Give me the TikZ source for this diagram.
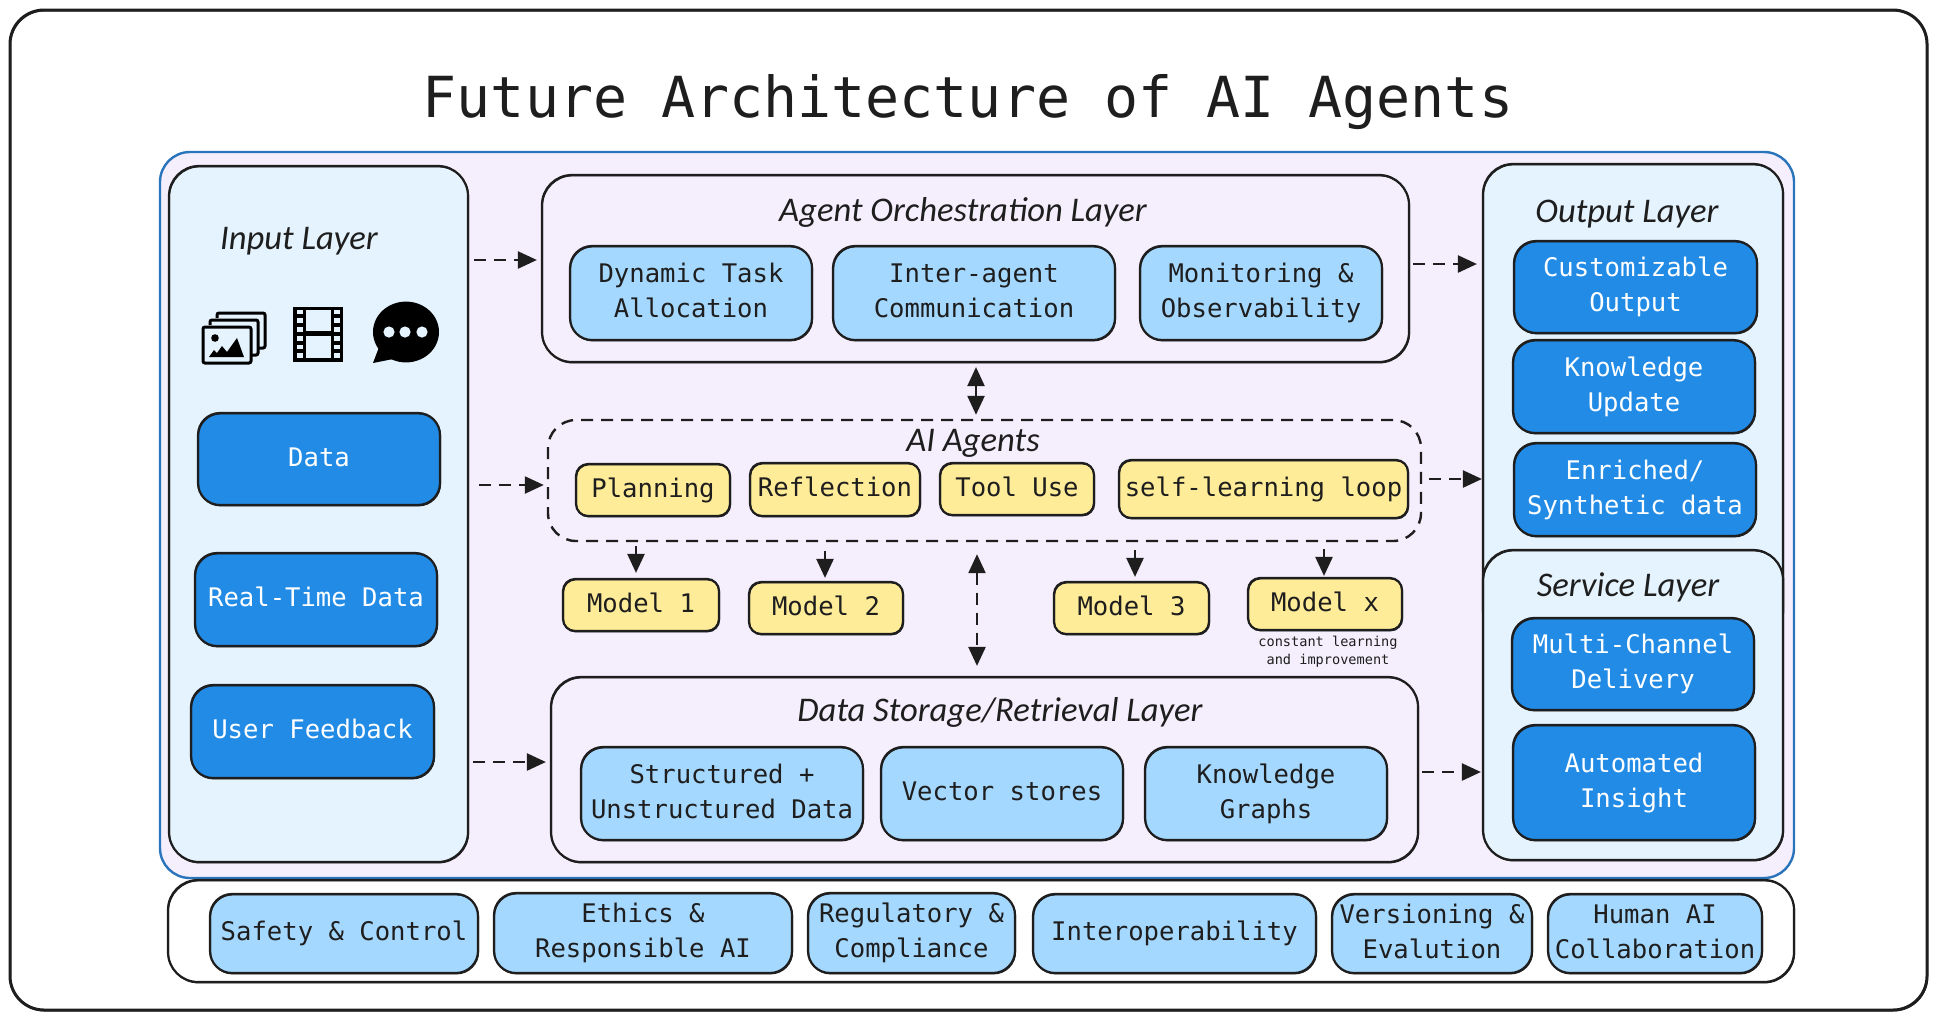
\documentclass[tikz,border=0pt]{standalone}
\usepackage{fontspec}
\setmonofont{DejaVu Sans Mono}
\newfontfamily\handfont{Carlito}
\usetikzlibrary{arrows.meta}
\definecolor{ink}{HTML}{1E1E1E}
\definecolor{violetbg}{HTML}{F5EFFD}
\definecolor{framebl}{HTML}{2A74BC}
\definecolor{layerbl}{HTML}{E4F3FE}
\definecolor{strongbl}{HTML}{228BE6}
\definecolor{softbl}{HTML}{A5D8FF}
\definecolor{softyl}{HTML}{FFEC99}
\tikzset{
  x=0.5pt,y=-0.5pt,
  lift/.store in=\liftamt, lift=0pt,
  sk/.style={draw=ink,line width=1.1pt,inner sep=0pt,align=center,text=ink,
    font=\ttfamily\fontsize{12.8}{17.5}\selectfont,
    postaction={draw=ink,line width=.5pt,transform canvas={shift={(.3pt,-.45pt)}}}},
  layerbox/.style={sk,fill=layerbl,rounded corners=15pt},
  orchbox/.style={sk,fill=none,rounded corners=15pt},
  whitebox/.style={sk,fill=white,rounded corners=15pt},
  strongbox/.style={sk,fill=strongbl,text=white,rounded corners=11pt},
  softbox/.style={sk,fill=softbl,rounded corners=11pt},
  yellowbox/.style={sk,fill=softyl,rounded corners=6pt},
  dashbox/.style={draw=ink,line width=1.2pt,dash pattern=on 6pt off 4pt,rounded corners=14pt,inner sep=0pt},
  handlabel/.style={font=\handfont\itshape\fontsize{17.3}{19}\selectfont,text=ink,inner sep=0pt},
  conn/.style={draw=ink,line width=1.2pt,dash pattern=on 6pt off 4pt,-{Triangle[length=9.5pt,width=8.5pt]}},
  conn2/.style={draw=ink,line width=1.2pt,dash pattern=on 6pt off 4pt,{Triangle[length=9.5pt,width=8.5pt]}-{Triangle[length=9.5pt,width=8.5pt]}},
}
\newcommand{\bx}[7]{%
  \pgfmathsetmacro\cxv{(#3+#5)/2}\pgfmathsetmacro\cyv{(#4+#6)/2}%
  \pgfmathsetmacro\wv{(#5-#3)*0.5}\pgfmathsetmacro\hv{(#6-#4)*0.5}%
  \node[#2,minimum width=\wv pt,minimum height=\hv pt] (#1) at (\cxv,\cyv)
    {\raisebox{\liftamt}{\begin{tabular}{@{}c@{}}#7\end{tabular}}};}
\begin{document}
\begin{tikzpicture}
\useasboundingbox[fill=white] (0,0) rectangle (1937,1019);
% outer frame
\bx{outer}{sk,rounded corners=17pt,line width=1.5pt}{10}{10}{1927}{1010}{}
\node[font=\ttfamily\fontsize{28.3}{32}\selectfont,text=ink,inner sep=0pt] (title) at (968,102) {Future Architecture of AI Agents};
% container
\bx{main}{draw=framebl,line width=1.2pt,fill=violetbg,rounded corners=15pt}{160}{152}{1794}{878}{}
% input layer
\bx{inp}{layerbox}{169}{166}{468}{862}{}
\node[handlabel] (inplabel) at (299,241) {Input Layer};
\bx{data}{strongbox}{198}{413}{440}{505}{Data}
\bx{rtdata}{strongbox}{195}{553}{437}{646}{Real-Time Data}
\bx{feedback}{strongbox}{191}{685}{434}{778}{User Feedback}
% icons
\begin{scope}[line width=1.5pt,draw=black]
  \draw[rounded corners=1pt] (217,318) -- (217,313) -- (265,313) -- (265,348) -- (258,348);
  \draw[rounded corners=1pt] (210,325) -- (210,320) -- (258,320) -- (258,355) -- (251,355);
  \draw[rounded corners=1pt] (203,327) rectangle (251,363);
  \fill[black] (215,338) circle[radius=1.9pt];
  \fill[black] (209,357) -- (214,350) -- (217,353) -- (222,346) -- (227,352) -- (237,338) -- (244,357) -- cycle;
  \fill[black] (293,307) rectangle (343,362);
  \fill[layerbl] (306,310) rectangle (331,331);
  \fill[layerbl] (306,336) rectangle (331,358);
  \foreach \hy/\hz in {310/314,318/323,327/332,336/341,345/349,353/358}{
    \fill[layerbl] (297,\hy) rectangle (303,\hz);
    \fill[layerbl] (334,\hy) rectangle (340,\hz);
  }
  \fill[black] (406,332) ellipse[x radius=16.5pt,y radius=15.2pt];
  \fill[black] (373,363) -- (381,342) -- (398,358) -- cycle;
  \foreach \dx in {389,405,422}{\fill[layerbl] (\dx,332) circle[radius=2.8pt];}
\end{scope}
% orchestration layer
\bx{orch}{orchbox}{542}{175}{1409}{362}{}
\node[handlabel] (orchlabel) at (963,212) {Agent Orchestration Layer};
\bx{dyn}{softbox}{570}{246}{812}{340}{Dynamic Task\\Allocation}
\bx{inter}{softbox}{833}{246}{1115}{340}{Inter-agent\\Communication}
\bx{monit}{softbox}{1140}{246}{1382}{340}{Monitoring \&\\Observability}
% AI agents
\bx{agents}{dashbox}{548}{420}{1421}{541}{}
\node[handlabel] (agentslabel) at (973,443) {AI Agents};
\bx{plan}{yellowbox}{576}{464}{730}{516}{Planning}
\bx{refl}{yellowbox}{750}{463}{920}{516}{Reflection}
\bx{tool}{yellowbox}{940}{463}{1094}{515}{Tool Use}
\bx{loop}{yellowbox}{1119}{460}{1408}{518}{self-learning loop}
\bx{mone}{yellowbox}{563}{579}{719}{631}{Model 1}
\bx{mtwo}{yellowbox}{749}{582}{903}{634}{Model 2}
\bx{mthree}{yellowbox}{1054}{582}{1209}{634}{Model 3}
\bx{mx}{yellowbox}{1248}{578}{1402}{630}{Model x}
\node[font=\ttfamily\fontsize{6.8}{9}\selectfont,text=ink,align=center,inner sep=0pt] (mxnote) at (1328,652) {constant learning\\and improvement};
% storage layer
\bx{store}{orchbox}{551}{677}{1418}{862}{}
\node[handlabel] (storelabel) at (1000,712) {Data Storage/Retrieval Layer};
\bx{struct}{softbox}{581}{747}{863}{840}{Structured +\\Unstructured Data}
\bx{vector}{softbox}{881}{747}{1123}{840}{Vector stores}
\bx{graphs}{softbox}{1145}{747}{1387}{840}{Knowledge\\Graphs}
% output layer
\bx{output}{layerbox}{1483}{164}{1783}{640}{}
\node[handlabel] (outlabel) at (1627,214) {Output Layer};
\bx{custom}{strongbox}{1514}{241}{1757}{333}{Customizable\\Output}
\bx{kupd}{strongbox}{1513}{340}{1755}{433}{Knowledge\\Update}
\bx{enrich}{strongbox}{1514}{443}{1756}{536}{Enriched/\\Synthetic data}
% service layer
\bx{service}{layerbox}{1483}{550}{1783}{860}{}
\node[handlabel] (servlabel) at (1628,587) {Service Layer};
\bx{multi}{strongbox}{1512}{618}{1754}{710}{Multi-Channel\\Delivery}
\bx{auto}{strongbox}{1513}{725}{1755}{840}{Automated\\Insight}
% bottom bar
\bx{bar}{whitebox}{168}{880}{1794}{982}{}
\bx{safety}{softbox}{210}{894}{478}{973}{Safety \& Control}
\bx{ethics}{softbox}{494}{893}{792}{973}{Ethics \&\\Responsible AI}
\bx{regul}{softbox}{808}{893}{1015}{973}{Regulatory \&\\Compliance}
\bx{interop}{softbox}{1033}{894}{1316}{973}{Interoperability}
\bx{versn}{softbox}{1332}{894}{1532}{973}{Versioning \&\\Evalution}
\bx{human}{softbox}{1548}{894}{1762}{973}{Human AI\\Collaboration}
% connectors
\draw[conn,shorten <=2.5pt,shorten >=2pt] (inp.east |- 0,260) -- (orch.west |- 0,260);
\draw[conn,shorten <=5pt,shorten >=1.5pt] (inp.east |- 0,485) -- (agents.west |- 0,485);
\draw[conn,shorten <=2pt,shorten >=2pt] (inp.east |- 0,762) -- (store.west |- 0,762);
\draw[conn,shorten <=1.5pt,shorten >=2.5pt] (orch.east |- 0,264) -- (output.west |- 0,264);
\draw[conn,shorten <=3.5pt] (agents.east |- 0,479) -- (output.west |- 0,479);
\draw[conn,shorten <=1.5pt,shorten >=.5pt] (store.east |- 0,772) -- (service.west |- 0,772);
\draw[conn2,shorten <=2pt,shorten >=2pt] (orch.south -| 976,0) -- (agents.north -| 976,0);
\draw[conn2,shorten <=6pt,shorten >=5pt] (agents.south -| 977,0) -- (store.north -| 977,0);
\draw[conn,shorten <=2pt,shorten >=2.5pt] (agents.south -| 636,0) -- (mone.north -| 636,0);
\draw[conn,shorten <=4.5pt,shorten >=1.5pt] (agents.south -| 825,0) -- (mtwo.north -| 825,0);
\draw[conn,shorten <=4pt,shorten >=2pt] (agents.south -| 1135,0) -- (mthree.north -| 1135,0);
\draw[conn,shorten <=3.5pt,shorten >=.5pt] (agents.south -| 1324,0) -- (mx.north -| 1324,0);
\end{tikzpicture}
\end{document}
